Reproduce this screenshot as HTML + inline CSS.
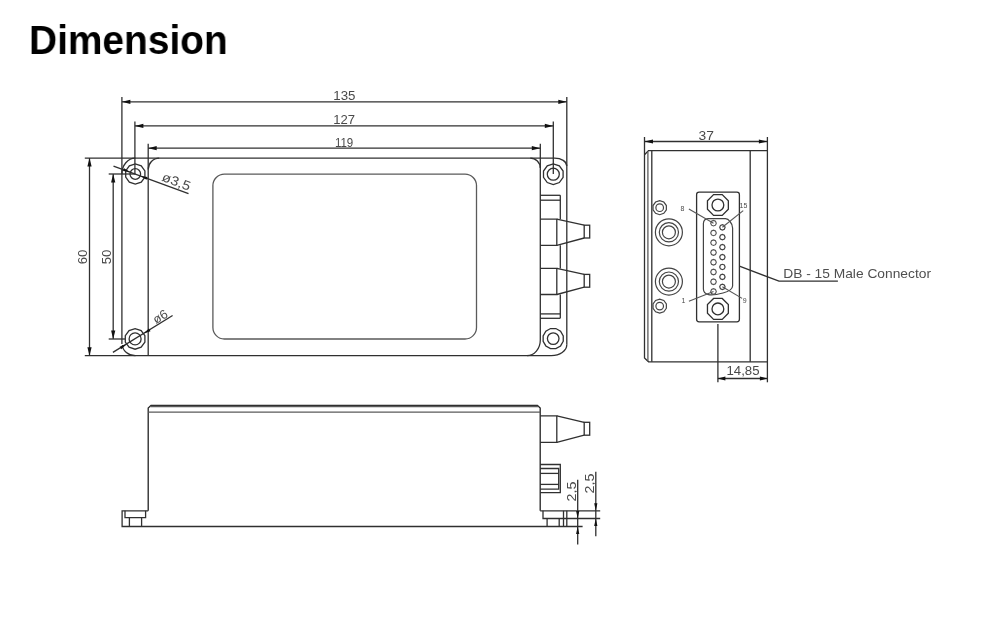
<!DOCTYPE html>
<html lang="en">
<head>
<meta charset="utf-8">
<title>Dimension</title>
<style>
html,body{margin:0;padding:0;background:#fff;}
body{width:1000px;height:620px;overflow:hidden;position:relative;font-family:"Liberation Sans",Arial,sans-serif;}
h1{will-change:transform;position:absolute;left:29.2px;top:17.5px;margin:0;transform:scaleX(0.972);transform-origin:0 0;font-size:40px;line-height:44px;font-weight:bold;color:#000;letter-spacing:0px;white-space:nowrap;}
svg{position:absolute;left:0;top:0;will-change:transform;filter:blur(0.4px);}
.l{fill:none;stroke:#303030;stroke-width:1.3;}
.k{stroke:#222;}
.g{stroke:#5a5a5a;stroke-width:1.3;}
.p{stroke:#555;stroke-width:1.1;}
.q{stroke:#444;stroke-width:1.2;}
.a{fill:#111;stroke:none;}
.t{font-family:"Liberation Sans",Arial,sans-serif;fill:#4a4a4a;}
.s{fill:#4a4a4a;}
.lbl{fill:#4f4f4f;}
</style>
</head>
<body>
<h1>Dimension</h1>
<svg width="1000" height="620" viewBox="0 0 1000 620">
<path class="l" d="M84.8,158.1 H554.7 A12.1,8 0 0 1 566.8,166"/>
<path class="l" d="M84.8,355.7 H551.3 A15.5,11 0 0 0 566.8,344.8"/>
<line class="l" x1="121.9" y1="97" x2="121.9" y2="344"/>
<line class="l" x1="134.9" y1="121.6" x2="134.9" y2="174"/>
<line class="l" x1="148.2" y1="143.7" x2="148.2" y2="355.7"/>
<path class="l" d="M540.3,143.7 V340 A13.3,15.7 0 0 1 527,355.7"/>
<line class="l" x1="553.3" y1="121.6" x2="553.3" y2="174"/>
<line class="l" x1="566.8" y1="97" x2="566.8" y2="344.8"/>
<line class="l" x1="121.9" y1="101.8" x2="566.8" y2="101.8"/>
<polygon class="a" points="121.90,101.80 130.40,99.70 130.40,103.90"/>
<polygon class="a" points="566.80,101.80 558.30,103.90 558.30,99.70"/>
<line class="l" x1="134.9" y1="125.9" x2="553.3" y2="125.9"/>
<polygon class="a" points="134.90,125.90 143.40,123.80 143.40,128.00"/>
<polygon class="a" points="553.30,125.90 544.80,128.00 544.80,123.80"/>
<line class="l" x1="148.2" y1="148.2" x2="540.3" y2="148.2"/>
<polygon class="a" points="148.20,148.20 156.70,146.10 156.70,150.30"/>
<polygon class="a" points="540.30,148.20 531.80,150.30 531.80,146.10"/>
<text class="t" x="344.4" y="100.4" font-size="12.5" text-anchor="middle" textLength="22.2" lengthAdjust="spacingAndGlyphs">135</text>
<text class="t" x="344.2" y="124.1" font-size="12.5" text-anchor="middle" textLength="21.8" lengthAdjust="spacingAndGlyphs">127</text>
<text class="t" x="344.1" y="146.8" font-size="12.5" text-anchor="middle" textLength="18.4" lengthAdjust="spacingAndGlyphs">119</text>
<line class="l" x1="89.5" y1="158.1" x2="89.5" y2="355.7"/>
<polygon class="a" points="89.50,158.10 91.60,166.60 87.40,166.60"/>
<polygon class="a" points="89.50,355.70 87.40,347.20 91.60,347.20"/>
<line class="l" x1="113.2" y1="174" x2="113.2" y2="339"/>
<polygon class="a" points="113.20,174.00 115.30,182.50 111.10,182.50"/>
<polygon class="a" points="113.20,339.00 111.10,330.50 115.30,330.50"/>
<line class="l" x1="108.7" y1="174" x2="135.3" y2="174"/>
<line class="l" x1="108.7" y1="339" x2="125" y2="339"/>
<text class="t" x="87.4" y="257" font-size="12.5" text-anchor="middle" transform="rotate(-90 87.4 257)" textLength="14.7" lengthAdjust="spacingAndGlyphs">60</text>
<text class="t" x="110.8" y="257" font-size="12.5" text-anchor="middle" transform="rotate(-90 110.8 257)" textLength="14.7" lengthAdjust="spacingAndGlyphs">50</text>
<polygon class="l" points="144.91,177.12 141.24,182.17 135.30,184.10 129.36,182.17 125.69,177.12 125.69,170.88 129.36,165.83 135.30,163.90 141.24,165.83 144.91,170.88"/>
<circle class="l" cx="135.3" cy="174" r="5.3"/>
<polygon class="l" points="144.90,342.08 141.15,347.23 135.10,349.20 129.05,347.23 125.30,342.08 125.30,335.72 129.05,330.57 135.10,328.60 141.15,330.57 144.90,335.72"/>
<circle class="l" cx="135.1" cy="338.9" r="6"/>
<polygon class="l" points="563.10,177.38 559.35,182.53 553.30,184.50 547.25,182.53 543.50,177.38 543.50,171.02 547.25,165.87 553.30,163.90 559.35,165.87 563.10,171.02"/>
<circle class="l" cx="553.3" cy="174.2" r="6"/>
<polygon class="l" points="563.25,341.29 560.55,345.95 555.89,348.65 550.51,348.65 545.85,345.95 543.15,341.29 543.15,335.91 545.85,331.25 550.51,328.55 555.89,328.55 560.55,331.25 563.25,335.91"/>
<circle class="l" cx="553.2" cy="338.6" r="5.8"/>
<path class="l" d="M121.9,174 A13.4,15.9 0 0 1 135.3,158.1"/>
<path class="l" d="M148.2,169.5 A11,11.4 0 0 1 159.2,158.1"/>
<path class="l" d="M530.3,158.1 A10,10 0 0 1 540.3,168.1"/>
<path class="l" d="M122.4,345 A13,11 0 0 0 135.5,355.7"/>
<rect class="l g" x="212.9" y="174.1" width="263.6" height="164.9" rx="11.5" ry="11.5"/>
<line class="l" x1="113.5" y1="166.2" x2="188.5" y2="193.6"/>
<polygon class="a" points="140.47,175.89 147.56,176.88 146.53,179.70"/>
<polygon class="a" points="130.13,172.11 123.04,171.12 124.07,168.30"/>
<text class="t" x="174.8" y="185.7" font-size="13" text-anchor="middle" transform="rotate(20.1 174.8 185.7)" textLength="29.5" lengthAdjust="spacingAndGlyphs">ø3,5</text>
<line class="l" x1="112.9" y1="352.4" x2="172.6" y2="315.5"/>
<polygon class="a" points="143.78,333.54 148.94,328.58 150.52,331.13"/>
<polygon class="a" points="126.42,344.26 121.26,349.22 119.68,346.67"/>
<text class="t" x="162.5" y="320.2" font-size="12.5" text-anchor="middle" transform="rotate(-31.7 162.5 320.2)" textLength="15" lengthAdjust="spacingAndGlyphs">ø6</text>
<line class="l" x1="540.3" y1="195.3" x2="560.3" y2="195.3"/>
<line class="l" x1="540.3" y1="200.2" x2="560.3" y2="200.2"/>
<line class="l" x1="540.3" y1="313.9" x2="560.3" y2="313.9"/>
<line class="l" x1="540.3" y1="318.3" x2="560.3" y2="318.3"/>
<line class="l" x1="560.3" y1="195.3" x2="560.3" y2="219.2"/>
<line class="l" x1="560.3" y1="245.3" x2="560.3" y2="268.4"/>
<line class="l" x1="560.3" y1="294.5" x2="560.3" y2="318.3"/>
<path class="l" d="M540.3,219.2 H556.8 V245.3 H540.3"/>
<path class="l" d="M556.8,219.2 L584.2,225.2 M584.2,238 L556.8,245.3"/>
<rect class="l" x="584.2" y="225.2" width="5.5" height="12.8"/>
<path class="l" d="M540.3,268.4 H556.8 V294.5 H540.3"/>
<path class="l" d="M556.8,268.4 L584.2,274.4 M584.2,287.2 L556.8,294.5"/>
<rect class="l" x="584.2" y="274.4" width="5.5" height="12.8"/>
<path class="l k" d="M148.2,510.8 V408 L151,405.3 H537.4 L540.2,408 V510.8"/>
<line class="l g" x1="150.2" y1="406.5" x2="538.2" y2="406.5"/>
<line class="l g" x1="148.2" y1="412.2" x2="540.2" y2="412.2"/>
<path class="l" d="M148.2,510.8 H122.1 V526.5 H582.6"/>
<path class="l" d="M125,510.8 V517.7 H145.6 V510.8"/>
<line class="l" x1="129.4" y1="517.7" x2="129.4" y2="526.5"/>
<line class="l" x1="141.6" y1="517.7" x2="141.6" y2="526.5"/>
<line class="l" x1="540.2" y1="510.8" x2="600.2" y2="510.8"/>
<path class="l" d="M543,510.8 V518.5 H600.2"/>
<line class="l" x1="563.5" y1="510.8" x2="563.5" y2="526.6"/>
<line class="l" x1="566.8" y1="510.8" x2="566.8" y2="526.6"/>
<line class="l" x1="547.1" y1="518.5" x2="547.1" y2="526.6"/>
<line class="l" x1="559.2" y1="518.5" x2="559.2" y2="526.6"/>
<path class="l" d="M540.2,415.8 H556.8 V442.4 H540.2"/>
<path class="l" d="M556.8,415.8 L584.2,422.3 M584.2,435.2 L556.8,442.4"/>
<rect class="l" x="584.2" y="422.3" width="5.5" height="12.9"/>
<path class="l" d="M540.2,464.5 H560.3 V492.7 H540.2"/>
<path class="l" d="M540.2,468.5 H558.7 V489.2 H540.2"/>
<line class="l" x1="540.2" y1="473.4" x2="558.7" y2="473.4"/>
<line class="l" x1="540.2" y1="484.4" x2="558.7" y2="484.4"/>
<line class="l" x1="577.7" y1="479.8" x2="577.7" y2="544.4"/>
<polygon class="a" points="577.70,518.50 576.10,511.00 579.30,511.00"/>
<polygon class="a" points="577.70,526.60 579.30,534.10 576.10,534.10"/>
<line class="l" x1="595.8" y1="471.8" x2="595.8" y2="536.3"/>
<polygon class="a" points="595.80,510.80 594.20,503.30 597.40,503.30"/>
<polygon class="a" points="595.80,518.50 597.40,526.00 594.20,526.00"/>
<text class="t" x="576.1" y="491.5" font-size="12.5" text-anchor="middle" transform="rotate(-90 576.1 491.5)" textLength="20" lengthAdjust="spacingAndGlyphs">2,5</text>
<text class="t" x="594.0" y="483.5" font-size="12.5" text-anchor="middle" transform="rotate(-90 594.0 483.5)" textLength="20" lengthAdjust="spacingAndGlyphs">2,5</text>
<path class="l" d="M644.5,137 V358 L648.5,361.8 H767.4"/>
<path class="l" d="M644.5,154.7 L648.5,150.6 H767.3"/>
<line class="l g" x1="647.9" y1="151.5" x2="647.9" y2="361"/>
<line class="l" x1="651.8" y1="150.6" x2="651.8" y2="361.8"/>
<line class="l" x1="750.2" y1="150.6" x2="750.2" y2="361.8"/>
<line class="l" x1="767.4" y1="137" x2="767.4" y2="382.3"/>
<line class="l" x1="644.5" y1="141.5" x2="767.4" y2="141.5"/>
<polygon class="a" points="644.50,141.50 653.00,139.40 653.00,143.60"/>
<polygon class="a" points="767.40,141.50 758.90,143.60 758.90,139.40"/>
<text class="t" x="706.2" y="140.4" font-size="13" text-anchor="middle" textLength="15.4" lengthAdjust="spacingAndGlyphs">37</text>
<line class="l" x1="717.9" y1="323.9" x2="717.9" y2="382.3"/>
<line class="l" x1="717.9" y1="378.5" x2="767.4" y2="378.5"/>
<polygon class="a" points="717.90,378.50 725.40,376.40 725.40,380.60"/>
<polygon class="a" points="767.40,378.50 759.90,380.60 759.90,376.40"/>
<text class="t" x="743" y="375.1" font-size="12.5" text-anchor="middle" textLength="33" lengthAdjust="spacingAndGlyphs">14,85</text>
<polygon class="l q" points="666.36,209.86 663.81,213.36 659.70,214.70 655.59,213.36 653.04,209.86 653.04,205.54 655.59,202.04 659.70,200.70 663.81,202.04 666.36,205.54"/>
<circle class="l q" cx="659.7" cy="207.7" r="3.8"/>
<polygon class="l q" points="666.36,308.26 663.81,311.76 659.70,313.10 655.59,311.76 653.04,308.26 653.04,303.94 655.59,300.44 659.70,299.10 663.81,300.44 666.36,303.94"/>
<circle class="l q" cx="659.7" cy="306.1" r="3.8"/>
<circle class="l q" cx="668.9" cy="232.3" r="13.5"/>
<circle class="l q" cx="668.9" cy="232.3" r="9.6"/>
<circle class="l q" cx="668.9" cy="232.3" r="6.5"/>
<circle class="l q" cx="668.9" cy="281.6" r="13.5"/>
<circle class="l q" cx="668.9" cy="281.6" r="9.6"/>
<circle class="l q" cx="668.9" cy="281.6" r="6.5"/>
<rect class="l" x="696.6" y="192.1" width="42.8" height="129.7" rx="2.5"/>
<polygon class="l" points="728.34,209.32 722.22,215.44 713.58,215.44 707.46,209.32 707.46,200.68 713.58,194.56 722.22,194.56 728.34,200.68"/>
<circle class="l" cx="717.9" cy="205" r="5.9"/>
<polygon class="l" points="728.34,313.22 722.22,319.34 713.58,319.34 707.46,313.22 707.46,304.58 713.58,298.46 722.22,298.46 728.34,304.58"/>
<circle class="l" cx="717.9" cy="308.9" r="5.9"/>
<path class="l q" d="M703.4,223.5 Q703.6,219 708,218.7 H725.5 Q728,218.9 730,221.5 Q732.6,224.5 732.6,228 V286 Q732.4,290.5 723,293 Q713,295.6 708.5,294.6 Q703.4,293.5 703.4,289 Z"/>
<polygon class="l p" points="716.30,223.20 715.48,225.18 713.50,226.00 711.52,225.18 710.70,223.20 711.52,221.22 713.50,220.40 715.48,221.22"/>
<polygon class="l p" points="716.30,232.96 715.48,234.94 713.50,235.76 711.52,234.94 710.70,232.96 711.52,230.98 713.50,230.16 715.48,230.98"/>
<polygon class="l p" points="716.30,242.72 715.48,244.70 713.50,245.52 711.52,244.70 710.70,242.72 711.52,240.74 713.50,239.92 715.48,240.74"/>
<polygon class="l p" points="716.30,252.48 715.48,254.46 713.50,255.28 711.52,254.46 710.70,252.48 711.52,250.50 713.50,249.68 715.48,250.50"/>
<polygon class="l p" points="716.30,262.24 715.48,264.22 713.50,265.04 711.52,264.22 710.70,262.24 711.52,260.26 713.50,259.44 715.48,260.26"/>
<polygon class="l p" points="716.30,272.00 715.48,273.98 713.50,274.80 711.52,273.98 710.70,272.00 711.52,270.02 713.50,269.20 715.48,270.02"/>
<polygon class="l p" points="716.30,281.76 715.48,283.74 713.50,284.56 711.52,283.74 710.70,281.76 711.52,279.78 713.50,278.96 715.48,279.78"/>
<polygon class="l p" points="716.30,291.52 715.48,293.50 713.50,294.32 711.52,293.50 710.70,291.52 711.52,289.54 713.50,288.72 715.48,289.54"/>
<polygon class="l q" points="725.10,227.30 724.31,229.21 722.40,230.00 720.49,229.21 719.70,227.30 720.49,225.39 722.40,224.60 724.31,225.39"/>
<polygon class="l q" points="725.10,237.22 724.31,239.13 722.40,239.92 720.49,239.13 719.70,237.22 720.49,235.31 722.40,234.52 724.31,235.31"/>
<polygon class="l q" points="725.10,247.14 724.31,249.05 722.40,249.84 720.49,249.05 719.70,247.14 720.49,245.23 722.40,244.44 724.31,245.23"/>
<polygon class="l q" points="725.10,257.06 724.31,258.97 722.40,259.76 720.49,258.97 719.70,257.06 720.49,255.15 722.40,254.36 724.31,255.15"/>
<polygon class="l q" points="725.10,266.98 724.31,268.89 722.40,269.68 720.49,268.89 719.70,266.98 720.49,265.07 722.40,264.28 724.31,265.07"/>
<polygon class="l q" points="725.10,276.90 724.31,278.81 722.40,279.60 720.49,278.81 719.70,276.90 720.49,274.99 722.40,274.20 724.31,274.99"/>
<polygon class="l q" points="725.10,286.82 724.31,288.73 722.40,289.52 720.49,288.73 719.70,286.82 720.49,284.91 722.40,284.12 724.31,284.91"/>
<line class="l p" x1="688.9" y1="209" x2="713.5" y2="223.2"/>
<line class="l p" x1="743.2" y1="210.6" x2="722.4" y2="227.3"/>
<line class="l p" x1="688.9" y1="301.3" x2="713.5" y2="291.5"/>
<line class="l p" x1="722.4" y1="286.8" x2="742.1" y2="298.4"/>
<text class="t s" x="682.4" y="211" font-size="7" text-anchor="middle">8</text>
<text class="t s" x="743.5" y="207.8" font-size="7" text-anchor="middle">15</text>
<text class="t s" x="683.5" y="302.6" font-size="7" text-anchor="middle">1</text>
<text class="t s" x="744.8" y="303.3" font-size="7" text-anchor="middle">9</text>
<path class="l" d="M739.4,266.1 L779,281.2 H837.9"/>
<text class="t lbl" x="783.2" y="278" font-size="13.5" text-anchor="start" textLength="147.8" lengthAdjust="spacingAndGlyphs">DB - 15 Male Connector</text>
</svg>
</body>
</html>
